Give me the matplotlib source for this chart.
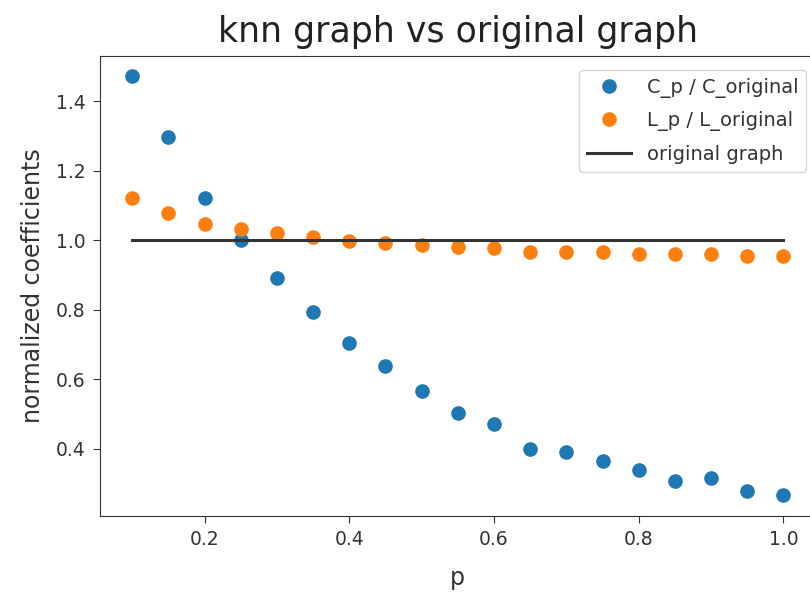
import matplotlib
matplotlib.use("Agg")
import matplotlib.pyplot as plt

p = [0.1, 0.15, 0.2, 0.25, 0.3, 0.35, 0.4, 0.45, 0.5, 0.55,
     0.6, 0.65, 0.7, 0.75, 0.8, 0.85, 0.9, 0.95, 1.0]
c_ratio = [1.471, 1.297, 1.120, 1.000, 0.891, 0.794, 0.703, 0.637, 0.566, 0.503,
           0.471, 0.400, 0.391, 0.363, 0.337, 0.306, 0.314, 0.277, 0.266]
l_ratio = [1.120, 1.077, 1.046, 1.031, 1.020, 1.009, 0.997, 0.991, 0.986, 0.980,
           0.977, 0.966, 0.966, 0.966, 0.960, 0.960, 0.960, 0.954, 0.954]
baseline = [1.0, 1.0]
baseline_x = [0.1, 1.0]

fig = plt.figure(figsize=(8.1, 5.94), dpi=100)
ax = fig.add_axes([99.6 / 810, 1 - 516 / 594, (816 - 99.6) / 810, (516 - 55.5) / 594])

ax.plot(p, c_ratio, 'o', color='#1f77b4', markersize=9.5, label='C_p / C_original')
ax.plot(p, l_ratio, 'o', color='#ff7f0e', markersize=9.5, label='L_p / L_original')
ax.plot(baseline_x, baseline, '-', color='#333333', linewidth=2.2, label='original graph')

ax.set_xlim(0.055, 1.045)
ax.set_ylim(0.206, 1.531)
ax.set_xticks([0.2, 0.4, 0.6, 0.8, 1.0])
ax.set_yticks([0.4, 0.6, 0.8, 1.0, 1.2, 1.4])
ax.tick_params(labelsize=13.5, colors='#333333', length=5, pad=5)
for s in ax.spines.values():
    s.set_color('#333333')

ax.set_xlabel('p', fontsize=17, color='#333333', labelpad=12)
ax.set_ylabel('normalized coefficients', fontsize=17, color='#333333', labelpad=8)
ax.set_title('knn graph vs original graph', fontsize=25, color='#222222', pad=10)
leg = ax.legend(fontsize=14, loc='upper right', bbox_to_anchor=(1.0, 0.99),
                handlelength=2.3, labelspacing=0.7)
for t in leg.get_texts():
    t.set_color('#333333')

fig.savefig('out.png', dpi=100)
